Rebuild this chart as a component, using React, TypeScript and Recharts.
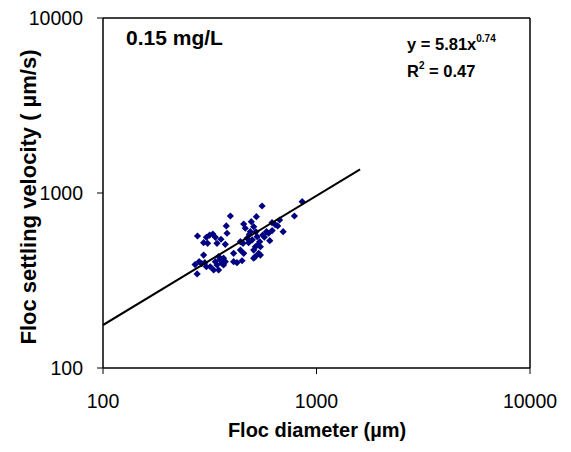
import React from 'react';
import { ScatterChart, Scatter, XAxis, YAxis, ReferenceLine } from 'recharts';

// Floc diameter (µm) of each measured floc
const diameters = [
  556, 857, 395, 523, 788, 672, 619, 456, 495, 508,
  464, 490, 378, 658, 583, 597, 698, 277, 316, 327,
  305, 336, 357, 296, 309, 342, 381, 440, 453, 374,
  527, 542, 517, 546, 508, 536, 546, 604, 473, 481,
  296, 409, 440, 456, 348, 367, 354, 361, 336, 342,
  374, 330, 318, 305, 348, 409, 424, 448, 508, 517,
  270, 276, 282, 367, 520, 560, 500, 530, 570, 485,
  620, 640, 300, 290,
];
// Floc settling velocity (µm/s) of each measured floc
const velocities = [
  843, 892, 739, 732, 739, 701, 677, 665, 686, 642,
  629, 601, 648, 648, 601, 589, 601, 568, 575, 583,
  558, 558, 544, 520, 516, 516, 589, 527, 516, 509,
  563, 527, 493, 493, 472, 452, 442, 534, 551, 520,
  442, 452, 472, 452, 433, 424, 414, 397, 405, 388,
  405, 363, 379, 379, 363, 405, 400, 410, 424, 433,
  390, 345, 405, 388, 600, 575, 540, 505, 560, 580,
  610, 660, 400, 395,
];

// Power-law fit y = 5.81 x^0.74 (straight in log-log), endpoints
const trendDiameters = [100, 1600];
const trendVelocities = [176, 1366];

const xTicks = [100, 1000, 10000];
const yTicks = [100, 1000, 10000];

const points = diameters.map((d, i) => ({ x: d, y: velocities[i] }));
const trend = trendDiameters.map((d, i) => ({ x: d, y: trendVelocities[i] }));

const FONT = '"Liberation Sans", Arial, Helvetica, sans-serif';

const Diamond = (props: any) => {
  const { cx, cy } = props;
  if (cx == null || cy == null) return <g />;
  const r = 3.6;
  return (
    <polygon
      points={`${cx},${cy - r} ${cx + r},${cy} ${cx},${cy + r} ${cx - r},${cy}`}
      fill="#000080"
    />
  );
};

const NoShape = () => <g />;

const XTick = (props: any) => {
  const { x, y, payload } = props;
  return (
    <text x={x} y={y + 32} textAnchor="middle" fontSize={19.5} fontFamily={FONT} fill="#000">
      {payload.value}
    </text>
  );
};

const YTick = (props: any) => {
  const { x, y, payload } = props;
  return (
    <text x={x - 12} y={y + 7} textAnchor="end" fontSize={19.5} fontFamily={FONT} fill="#000">
      {payload.value}
    </text>
  );
};

export default function App() {
  return (
    <div style={{ position: 'absolute', left: 0, top: 0, width: 571, height: 452, background: '#fff' }}>
      <ScatterChart
        width={571}
        height={452}
        margin={{ top: 18, right: 41, bottom: 0, left: 0 }}
      >
        <XAxis
          type="number"
          dataKey="x"
          scale="log"
          domain={[100, 10000]}
          ticks={xTicks}
          allowDataOverflow
          height={84}
          tickSize={6}
          tickMargin={2}
          tick={<XTick />}
          axisLine={{ stroke: '#000', strokeWidth: 1.5 }}
          tickLine={{ stroke: '#000', strokeWidth: 1 }}
        />
        <YAxis
          type="number"
          dataKey="y"
          scale="log"
          domain={[100, 10000]}
          ticks={yTicks}
          allowDataOverflow
          width={103}
          tickSize={6}
          tickMargin={2}
          tick={<YTick />}
          axisLine={{ stroke: '#000', strokeWidth: 1.5 }}
          tickLine={{ stroke: '#000', strokeWidth: 1 }}
        />
        <ReferenceLine y={10000} stroke="#000" strokeWidth={1.5} />
        <ReferenceLine x={10000} stroke="#000" strokeWidth={1.5} />
        <Scatter data={points} shape={<Diamond />} isAnimationActive={false} />
        <Scatter
          data={trend}
          line={{ stroke: '#000', strokeWidth: 2 }}
          shape={<NoShape />}
          isAnimationActive={false}
        />
      </ScatterChart>
      <svg
        width={571}
        height={452}
        style={{ position: 'absolute', left: 0, top: 0, pointerEvents: 'none' }}
        fontFamily={FONT}
      >
        <text x={126} y={45} fontSize={21} fontWeight="bold" fill="#000">0.15 mg/L</text>
        <text x={407} y={50} fontSize={16.5} fontWeight="bold" fill="#000">
          y = 5.81x<tspan dy={-8} fontSize={10}>0.74</tspan>
        </text>
        <text x={407} y={77} fontSize={16.5} fontWeight="bold" fill="#000">
          R<tspan dy={-8} fontSize={10}>2</tspan><tspan dy={8}> = 0.47</tspan>
        </text>
        <text x={317} y={437} textAnchor="middle" fontSize={20} fontWeight="bold" fill="#000">
          Floc diameter (µm)
        </text>
        <text
          x={36}
          y={197}
          textAnchor="middle"
          fontSize={22}
          fontWeight="bold"
          fill="#000"
          transform="rotate(-90, 36, 197)"
        >
          Floc settling velocity ( µm/s)
        </text>
      </svg>
    </div>
  );
}
